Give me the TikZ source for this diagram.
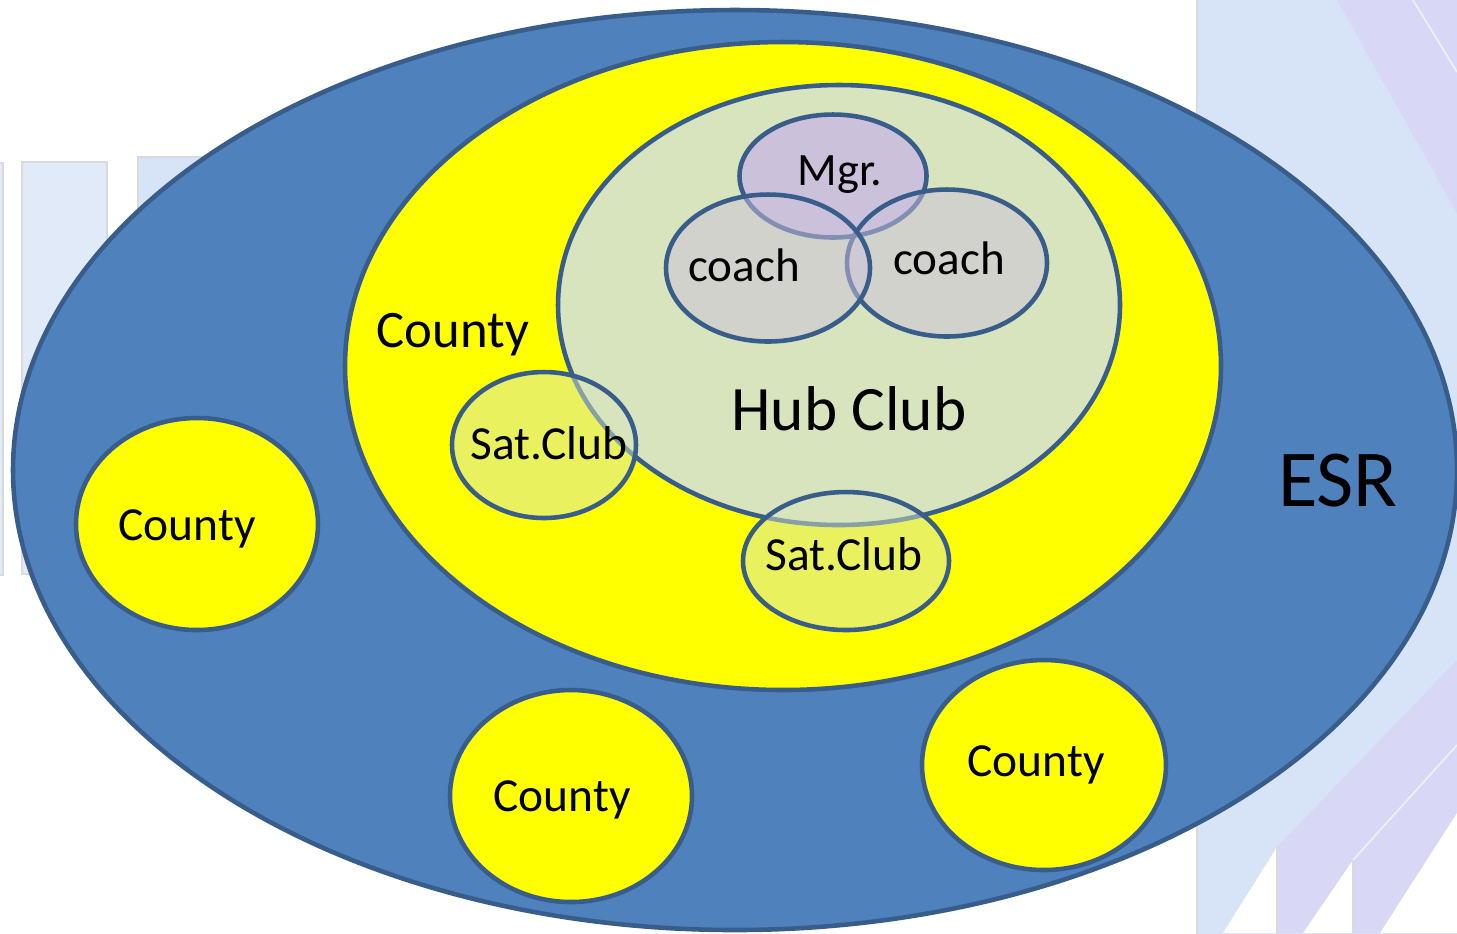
\documentclass[tikz,border=0pt]{standalone}
\usepackage{fontspec}
\setmainfont{Carlito}
\usetikzlibrary{shapes.geometric}
\definecolor{esrblue}{HTML}{4F81BD}
\definecolor{edgeblue}{HTML}{385D8A}
\definecolor{hubgreen}{HTML}{D7E4BD}
\definecolor{mgrlilac}{HTML}{CCC1DA}
\definecolor{countyyellow}{RGB}{255,255,0}
\definecolor{bgblue}{HTML}{D7E4F8}
\definecolor{bgpale}{HTML}{E1EAF8}
\definecolor{bglilac}{HTML}{D8D7F6}
\definecolor{bggrey}{HTML}{DADADA}
\tikzset{
  blob/.style={ellipse, draw=edgeblue, line width=1.3pt, inner sep=0pt},
  county/.style={blob, fill=countyyellow, minimum width=24.2mm, minimum height=21.2mm},
  satclub/.style={blob, fill=hubgreen, fill opacity=0.5},
  staff/.style={blob, fill=mgrlilac},
  lbl/.style={inner sep=0pt, font=\fontsize{13.5pt}{16pt}\selectfont},
  panel/.style={draw=bggrey, line width=0.8pt},
}
\begin{document}
\begin{tikzpicture}[x=0.1mm, y=-0.1mm]
    \useasboundingbox (0,0) rectangle (1457,933);
    \clip (0,0) rectangle (1457,933);
    \fill[white] (0,0) rectangle (1457,933);
    % slide backdrop
    \draw[panel, fill=bgpale] (-20,163) rectangle (3,575);
    \draw[panel, fill=bgpale] (22,162) rectangle (107,574);
    \draw[panel, fill=bgblue] (138,157) rectangle (224,574);
    \draw[panel, fill=bgblue] (1197,-10) rectangle (1470,945);
    \fill[bglilac] (1337,0) -- (1457,0) -- (1457,213) -- cycle;
    \draw[bggrey!40, line width=0.5pt] (1413,0) -- (1457,72);
    \fill[bglilac] (1277,847) -- (1457,660) -- (1457,933) -- (1277,933) -- cycle;
    \draw[bggrey!40, line width=0.5pt] (1353,860) -- (1457,745);
    \fill[white] (1223,933) -- (1277,847) -- (1277,933) -- cycle;
    \fill[white] (1303,933) -- (1353,860) -- (1353,933) -- cycle;
    \fill[white] (1380,933) -- (1457,813) -- (1457,933) -- cycle;
    \draw[bggrey, line width=0.8pt] (1277,847) -- (1277,933);
    \draw[bggrey, line width=0.8pt] (1353,860) -- (1353,933);
    % regions
    \node[blob, fill=esrblue, minimum width=144.4mm, minimum height=92mm] (esr) at (735,470) {};
    \node[county] (countyW) at (197,524) {};
    \node[county] (countyS) at (571,796) {};
    \node[county, minimum width=24.4mm, minimum height=21mm] (countyE) at (1044,765) {};
    \node[blob, fill=countyyellow, minimum width=87.6mm, minimum height=64.8mm] (county) at (783,366) {};
    \node[blob, fill=hubgreen, minimum width=56.2mm, minimum height=44mm] (hub) at (839,305) {};
    \node[satclub, minimum width=18.4mm, minimum height=14.6mm] (satW) at (544,445) {};
    \node[satclub, minimum width=20.6mm, minimum height=13.8mm] (satS) at (846,561) {};
    \node[staff, minimum width=18.7mm, minimum height=12.3mm] (mgr) at (833,176) {};
    \node[staff, fill opacity=0.5, minimum width=20mm, minimum height=14.7mm] (coachE) at (947,263) {};
    \node[staff, fill opacity=0.5, minimum width=20.4mm, minimum height=14.7mm] (coachW) at (768,268) {};
    % labels
    \node[lbl, font=\fontsize{23pt}{28pt}\selectfont] (esrT) at (1338,481) {ESR};
    \node[lbl, font=\fontsize{15pt}{18pt}\selectfont] (countyT) at (453,335) {County};
    \node[lbl, font=\fontsize{18pt}{22pt}\selectfont] (hubT) at (849,409) {Hub Club};
    \node[lbl, font=\fontsize{13.2pt}{16pt}\selectfont] (mgrT) at (840,175) {Mgr.};
    \node[lbl, font=\fontsize{13.4pt}{16pt}\selectfont] (coachWT) at (744,265) {coach};
    \node[lbl, font=\fontsize{13.4pt}{16pt}\selectfont] (coachET) at (949,258) {coach};
    \node[lbl] (satWT) at (549,443) {Sat.Club};
    \node[lbl] (satST) at (844,554) {Sat.Club};
    \node[lbl] (countyWT) at (187,529) {County};
    \node[lbl] (countyST) at (562,800) {County};
    \node[lbl] (countyET) at (1036,765) {County};
\end{tikzpicture}
\end{document}
